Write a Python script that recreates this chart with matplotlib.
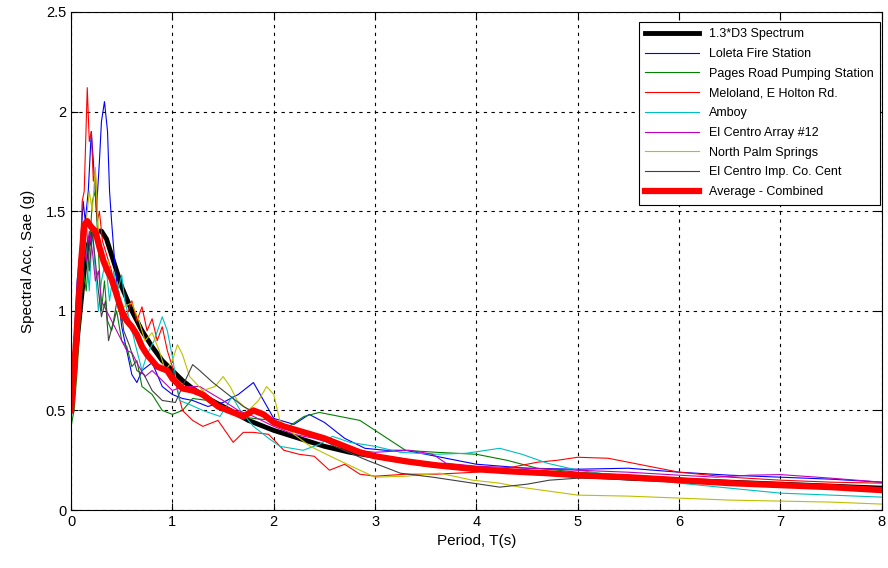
import matplotlib
matplotlib.use("Agg")
from matplotlib import pyplot as plt

plt.rcParams['font.family'] = ['Liberation Sans', 'DejaVu Sans']

# 1.3*D3 design spectrum
t_design = [0, 0.05, 0.1, 0.15, 0.2, 0.25, 0.3, 0.35, 0.4, 0.45, 0.5, 0.6, 0.7, 0.8, 0.9, 1.0, 1.1, 1.2,
            1.35, 1.5, 1.75, 2.0, 2.25, 2.5, 2.75, 3.0, 3.5, 4.0, 4.5, 5.0, 5.5, 6.0, 6.5, 7.0, 7.5, 8.0]
sa_design = [0.55, 0.8, 1.05, 1.3, 1.38, 1.40, 1.40, 1.36, 1.28, 1.2, 1.12, 1.0, 0.9, 0.82, 0.75, 0.70, 0.65, 0.61,
             0.56, 0.52, 0.45, 0.40, 0.36, 0.32, 0.29, 0.27, 0.23, 0.205, 0.19, 0.175, 0.16, 0.15, 0.14, 0.13, 0.12, 0.11]

t_loleta = [0, 0.03, 0.06, 0.09, 0.12, 0.14, 0.17, 0.2, 0.22, 0.25, 0.28, 0.3, 0.33, 0.36, 0.38, 0.4, 0.43, 0.47,
            0.5, 0.55, 0.6, 0.65, 0.7, 0.8, 0.9, 1.0, 1.1, 1.2, 1.35, 1.5, 1.65, 1.8, 1.9, 2.0, 2.2, 2.35, 2.5,
            2.7, 2.9, 3.1, 3.3, 3.6, 4.0, 4.5, 5.0, 5.5, 6.0, 6.5, 7.0, 7.5, 8.0]
sa_loleta = [0.6, 0.85, 1.15, 1.3, 1.55, 1.45, 1.6, 1.9, 1.75, 1.5, 1.75, 1.95, 2.05, 1.9, 1.6, 1.45, 1.25, 1.05,
             0.92, 0.8, 0.68, 0.64, 0.7, 0.74, 0.62, 0.58, 0.56, 0.55, 0.52, 0.54, 0.58, 0.64, 0.55, 0.46, 0.43, 0.48, 0.44,
             0.36, 0.31, 0.30, 0.30, 0.27, 0.23, 0.21, 0.205, 0.21, 0.19, 0.175, 0.165, 0.155, 0.14]

t_pages = [0, 0.03, 0.06, 0.09, 0.12, 0.15, 0.18, 0.21, 0.24, 0.27, 0.3, 0.33, 0.36, 0.4, 0.45, 0.5, 0.55, 0.6,
           0.65, 0.7, 0.8, 0.9, 1.0, 1.1, 1.2, 1.35, 1.5, 1.65, 1.8, 2.0, 2.15, 2.3, 2.45, 2.65, 2.85, 3.0, 3.15,
           3.3, 3.6, 4.0, 4.3, 4.6, 5.0, 5.5, 6.0, 6.5, 7.0, 7.5, 8.0]
sa_pages = [0.42, 0.5, 0.7, 0.95, 1.2, 1.1, 1.3, 1.55, 1.6, 1.3, 1.0, 1.15, 0.95, 0.9, 1.0, 0.85, 0.82, 0.72,
            0.75, 0.62, 0.58, 0.5, 0.48, 0.5, 0.56, 0.55, 0.52, 0.47, 0.46, 0.45, 0.42, 0.47, 0.49, 0.47, 0.45, 0.40, 0.35,
            0.30, 0.29, 0.28, 0.25, 0.21, 0.19, 0.175, 0.16, 0.145, 0.13, 0.12, 0.11]

t_meloland = [0, 0.03, 0.06, 0.09, 0.11, 0.13, 0.16, 0.18, 0.2, 0.22, 0.24, 0.26, 0.28, 0.31, 0.34, 0.37, 0.4, 0.45,
              0.5, 0.55, 0.6, 0.65, 0.7, 0.75, 0.8, 0.85, 0.9, 0.95, 1.0, 1.05, 1.1, 1.2, 1.3, 1.45, 1.6, 1.7,
              1.8, 1.95, 2.1, 2.25, 2.4, 2.55, 2.7, 2.85, 3.0, 3.3, 3.6, 4.0, 4.3, 4.6, 4.8, 5.0, 5.3, 5.6,
              6.0, 6.5, 7.0, 7.5, 8.0]
sa_meloland = [0.55, 0.8, 1.0, 1.25, 1.55, 1.6, 2.12, 1.85, 1.9, 1.65, 1.7, 1.45, 1.5, 1.35, 1.3, 1.25, 1.2, 1.05,
               0.95, 0.98, 1.05, 0.95, 1.02, 0.9, 0.96, 0.85, 0.92, 0.8, 0.72, 0.6, 0.5, 0.45, 0.42, 0.45, 0.34, 0.39,
               0.39, 0.38, 0.30, 0.28, 0.27, 0.20, 0.23, 0.18, 0.17, 0.18, 0.18, 0.19, 0.21, 0.24, 0.25, 0.265, 0.26, 0.23,
               0.19, 0.165, 0.15, 0.14, 0.135]

t_amboy = [0, 0.03, 0.06, 0.09, 0.12, 0.15, 0.18, 0.21, 0.24, 0.27, 0.3, 0.34, 0.38, 0.42, 0.46, 0.5, 0.53, 0.58,
           0.63, 0.7, 0.75, 0.82, 0.9, 0.95, 1.0, 1.07, 1.17, 1.3, 1.47, 1.59, 1.67, 1.8, 1.95, 2.06, 2.29, 2.45,
           2.58, 2.75, 3.0, 3.25, 3.6, 3.9, 4.23, 4.45, 4.7, 5.0, 5.5, 6.0, 6.5, 7.0, 7.5, 8.0]
sa_amboy = [0.45, 0.6, 0.85, 1.2, 1.45, 1.3, 1.1, 1.4, 1.2, 1.0, 1.15, 1.25, 1.05, 1.2, 1.1, 1.18, 1.05, 0.95,
            0.84, 0.70, 0.78, 0.85, 0.97, 0.9, 0.77, 0.55, 0.53, 0.5, 0.47, 0.57, 0.50, 0.42, 0.36, 0.32, 0.30, 0.33,
            0.37, 0.34, 0.32, 0.29, 0.28, 0.285, 0.31, 0.28, 0.235, 0.20, 0.165, 0.135, 0.11, 0.085, 0.075, 0.065]

t_array12 = [0, 0.03, 0.06, 0.09, 0.12, 0.15, 0.18, 0.21, 0.24, 0.27, 0.3, 0.35, 0.4, 0.45, 0.5, 0.55, 0.6, 0.67,
             0.73, 0.8, 0.9, 1.0, 1.1, 1.27, 1.4, 1.5, 1.65, 1.8, 2.0, 2.2, 2.4, 2.6, 2.8, 3.0, 3.34, 3.57, 3.7,
             4.0, 4.5, 5.0, 5.5, 6.0, 6.37, 6.7, 7.0, 7.5, 8.0]
sa_array12 = [0.6, 0.8, 1.05, 1.2, 1.35, 1.25, 1.4, 1.3, 1.15, 1.2, 1.05, 1.0, 0.95, 0.9, 0.85, 0.8, 0.79, 0.72,
              0.67, 0.7, 0.65, 0.6, 0.62, 0.62, 0.58, 0.55, 0.5, 0.47, 0.42, 0.38, 0.36, 0.33, 0.30, 0.29, 0.30, 0.28, 0.235,
              0.22, 0.21, 0.2, 0.19, 0.175, 0.165, 0.175, 0.178, 0.16, 0.14]

t_palm = [0, 0.03, 0.06, 0.09, 0.12, 0.15, 0.18, 0.21, 0.24, 0.27, 0.3, 0.33, 0.37, 0.42, 0.47, 0.52, 0.6, 0.67,
          0.73, 0.8, 0.87, 0.93, 1.0, 1.05, 1.1, 1.17, 1.3, 1.42, 1.5, 1.57, 1.64, 1.75, 1.85, 1.93, 2.0, 2.06,
          2.2, 2.36, 2.6, 2.85, 3.0, 3.3, 3.64, 3.96, 4.23, 4.43, 5.0, 5.5, 6.0, 6.5, 7.0, 7.5, 8.0]
sa_palm = [0.5, 0.65, 0.9, 1.1, 1.25, 1.45, 1.6, 1.5, 1.72, 1.4, 1.3, 1.2, 1.25, 1.1, 1.0, 1.02, 1.04, 0.95,
           0.85, 0.89, 0.8, 0.70, 0.75, 0.83, 0.78, 0.67, 0.6, 0.62, 0.67, 0.62, 0.55, 0.5, 0.55, 0.62, 0.58, 0.45,
           0.38, 0.32, 0.26, 0.20, 0.165, 0.17, 0.185, 0.15, 0.135, 0.115, 0.075, 0.07, 0.06, 0.05, 0.045, 0.04, 0.03]

t_impco = [0, 0.03, 0.06, 0.09, 0.12, 0.15, 0.18, 0.21, 0.24, 0.27, 0.3, 0.34, 0.37, 0.42, 0.47, 0.52, 0.58, 0.65,
           0.72, 0.8, 0.9, 1.03, 1.1, 1.2, 1.27, 1.4, 1.55, 1.7, 1.85, 2.03, 2.2, 2.36, 2.6, 2.92, 3.25, 3.57,
           3.9, 4.23, 4.5, 4.72, 5.0, 5.5, 6.0, 6.5, 7.0, 7.5, 8.0]
sa_impco = [0.55, 0.8, 1.0, 1.15, 1.3, 1.45, 1.2, 1.4, 1.25, 1.1, 0.97, 1.05, 0.85, 0.95, 1.1, 0.9, 0.82, 0.7,
            0.68, 0.6, 0.55, 0.54, 0.62, 0.73, 0.70, 0.64, 0.58, 0.52, 0.48, 0.44, 0.41, 0.39, 0.32, 0.25, 0.185, 0.165,
            0.14, 0.115, 0.13, 0.15, 0.16, 0.155, 0.15, 0.14, 0.13, 0.12, 0.11]

t_avg = [0, 0.05, 0.1, 0.13, 0.16, 0.2, 0.24, 0.28, 0.32, 0.36, 0.4, 0.45, 0.5, 0.55, 0.6, 0.65, 0.7, 0.75,
         0.8, 0.85, 0.9, 0.95, 1.0, 1.1, 1.2, 1.3, 1.45, 1.6, 1.7, 1.8, 1.9, 2.0, 2.1, 2.3, 2.5, 2.7, 2.85,
         3.0, 3.3, 3.6, 4.0, 4.3, 4.7, 5.0, 5.5, 6.0, 6.5, 7.0, 7.5, 8.0]
sa_avg = [0.5, 0.85, 1.25, 1.43, 1.45, 1.42, 1.40, 1.32, 1.25, 1.2, 1.16, 1.08, 1.0, 0.95, 0.92, 0.88, 0.82, 0.78,
          0.75, 0.72, 0.71, 0.70, 0.66, 0.61, 0.60, 0.58, 0.52, 0.49, 0.47, 0.50, 0.48, 0.44, 0.42, 0.39, 0.36, 0.32, 0.29,
          0.27, 0.245, 0.225, 0.205, 0.195, 0.185, 0.175, 0.165, 0.15, 0.135, 0.125, 0.115, 0.10]

fig = plt.figure(figsize=(8.88, 5.68), dpi=100)
ax = fig.add_axes([0.080, 0.102, 0.913, 0.877])

ax.plot(t_design, sa_design, color='black', linewidth=3.5, label='1.3*D3 Spectrum')
ax.plot(t_loleta, sa_loleta, color=(0, 0, 1), linewidth=0.8, label='Loleta Fire Station')
ax.plot(t_pages, sa_pages, color=(0, 0.5, 0), linewidth=0.8, label='Pages Road Pumping Station')
ax.plot(t_meloland, sa_meloland, color=(1, 0, 0), linewidth=0.8, label='Meloland, E Holton Rd.')
ax.plot(t_amboy, sa_amboy, color=(0, 0.75, 0.75), linewidth=0.8, label='Amboy')
ax.plot(t_array12, sa_array12, color=(0.75, 0, 0.75), linewidth=0.8, label='El Centro Array #12')
ax.plot(t_palm, sa_palm, color=(0.75, 0.75, 0), linewidth=0.8, label='North Palm Springs')
ax.plot(t_impco, sa_impco, color=(0.25, 0.25, 0.25), linewidth=0.8, label='El Centro Imp. Co. Cent')
ax.plot(t_avg, sa_avg, color=(1, 0, 0), linewidth=4.5, label='Average - Combined')

ax.set_xlim(0, 8)
ax.set_ylim(0, 2.5)
ax.set_xticks(range(0, 9))
ax.set_yticks([0, 0.5, 1, 1.5, 2, 2.5])
ax.set_yticklabels(['0', '0.5', '1', '1.5', '2', '2.5'])
ax.grid(True, color='black', linestyle=(0, (3, 4)), linewidth=0.8)
ax.tick_params(direction='in', top=True, right=True, labelsize=10.5, length=5)
for s in ax.spines.values():
    s.set_linewidth(0.8)

ax.set_xlabel('Period, T(s)', fontsize=11)
ax.set_ylabel('Spectral Acc, Sae (g)', fontsize=11, labelpad=8)

leg = ax.legend(loc='upper right', bbox_to_anchor=(880 / 888, 1 - 22 / 568), bbox_transform=fig.transFigure,
                fontsize=9, frameon=True, fancybox=False, framealpha=1, borderaxespad=0,
                edgecolor='black', handlelength=4.3, labelspacing=0.62, borderpad=0.5)
leg.get_frame().set_linewidth(0.8)

fig.savefig('out.png', dpi=100)
